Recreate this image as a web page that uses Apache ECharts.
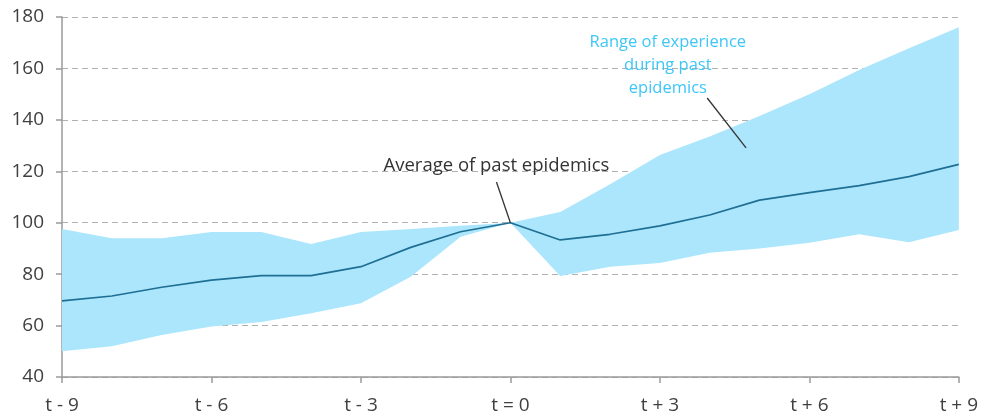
<!DOCTYPE html>
<html>
<head>
<meta charset="utf-8">
<script src="https://cdn.jsdelivr.net/npm/echarts@6/dist/echarts.min.js"></script>
<style>
  html, body { margin: 0; padding: 0; background: #fff; }
  #chart { width: 981px; height: 416px; }
</style>
</head>
<body>
<div id="chart"></div>
<script>
const periods = ["t - 9", "t - 8", "t - 7", "t - 6", "t - 5", "t - 4", "t - 3", "t - 2", "t - 1", "t = 0",
  "t + 1", "t + 2", "t + 3", "t + 4", "t + 5", "t + 6", "t + 7", "t + 8", "t + 9"];
const rangeLow = [50, 52, 56.3, 59.6, 61.4, 64.8, 68.7, 79, 94.5, 100,
  79.3, 82.9, 84.3, 88.3, 90, 92.2, 95.5, 92.4, 97.2];
const rangeHigh = [97.6, 94, 94, 96.4, 96.4, 91.7, 96.4, 97.6, 98.8, 100,
  104.2, 115, 126.3, 133.5, 141.5, 150, 159.4, 167.8, 176];
const average = [69.6, 71.5, 74.9, 77.7, 79.4, 79.4, 82.9, 90.4, 96.5, 100,
  93.3, 95.5, 98.8, 103, 108.8, 111.7, 114.4, 117.9, 122.7];
const yTicks = [40, 60, 80, 100, 120, 140, 160, 180];

const FONT = "'Open Sans', 'Noto Sans', sans-serif";
const chart = echarts.init(document.getElementById("chart"));

chart.setOption({
  animation: false,
  grid: { left: 62, right: 21, top: 17, bottom: 39 },
  xAxis: {
    type: "category",
    data: periods,
    boundaryGap: false,
    axisLine: { lineStyle: { color: "#9a9a9a", width: 1.5 } },
    axisTick: { interval: 2, length: 6, lineStyle: { color: "#9a9a9a", width: 1.5 } },
    axisLabel: { interval: 2, color: "#404040", fontFamily: FONT, fontSize: 19, margin: 19 },
    splitLine: { show: false }
  },
  yAxis: {
    type: "value",
    min: yTicks[0],
    max: yTicks[yTicks.length - 1],
    interval: 20,
    axisLine: { show: true, lineStyle: { color: "#9a9a9a", width: 1.5 } },
    axisTick: { show: true, length: 6, lineStyle: { color: "#9a9a9a", width: 1.5 } },
    axisLabel: { color: "#404040", fontFamily: FONT, fontSize: 19, margin: 18 },
    splitLine: { lineStyle: { color: "#b0b0b0", type: [6, 4], width: 1 } }
  },
  series: [
    {
      name: "low", type: "line", stack: "band", data: rangeLow,
      showSymbol: false, lineStyle: { opacity: 0 }, silent: true, z: 1
    },
    {
      name: "Range of experience during past epidemics", type: "line", stack: "band",
      data: rangeHigh.map((v, i) => v - rangeLow[i]),
      showSymbol: false, lineStyle: { opacity: 0 },
      areaStyle: { color: "#abe6fc", opacity: 1 }, silent: true, z: 1
    },
    {
      name: "Average of past epidemics", type: "line", data: average,
      showSymbol: false, lineStyle: { color: "#1f6f95", width: 1.7 }, z: 3
    }
  ]
});

// annotation positions in data space (fractional category index)
function px(idx, val) {
  const i0 = Math.floor(idx), f = idx - i0;
  const a = chart.convertToPixel({ gridIndex: 0 }, [i0, val]);
  const b = chart.convertToPixel({ gridIndex: 0 }, [Math.min(i0 + 1, periods.length - 1), val]);
  return [a[0] + (b[0] - a[0]) * f, a[1]];
}

const avgFrom = px(8.72, 115.8), avgTo = px(9, 100), avgText = px(8.72, 122.3);
const rngFrom = px(12.95, 148.5), rngTo = px(13.73, 129.1), rngText = px(12.16, 161.4);

chart.setOption({
  graphic: [
    {
      type: "line", z: 10,
      shape: { x1: avgFrom[0], y1: avgFrom[1], x2: avgTo[0], y2: avgTo[1] },
      style: { stroke: "#333", lineWidth: 1.3 }
    },
    {
      type: "text", z: 10, x: avgText[0], y: avgText[1],
      style: {
        text: "Average of past epidemics", fill: "#333", font: "18.5px " + FONT,
        align: "center", verticalAlign: "middle"
      }
    },
    {
      type: "line", z: 10,
      shape: { x1: rngFrom[0], y1: rngFrom[1], x2: rngTo[0], y2: rngTo[1] },
      style: { stroke: "#333", lineWidth: 1.3 }
    },
    {
      type: "text", z: 10, x: rngText[0], y: rngText[1],
      style: {
        text: "Range of experience\nduring past\nepidemics", fill: "#3ec6f7", font: "16.5px " + FONT,
        lineHeight: 23, align: "center", verticalAlign: "middle"
      }
    }
  ]
});
</script>
</body>
</html>
